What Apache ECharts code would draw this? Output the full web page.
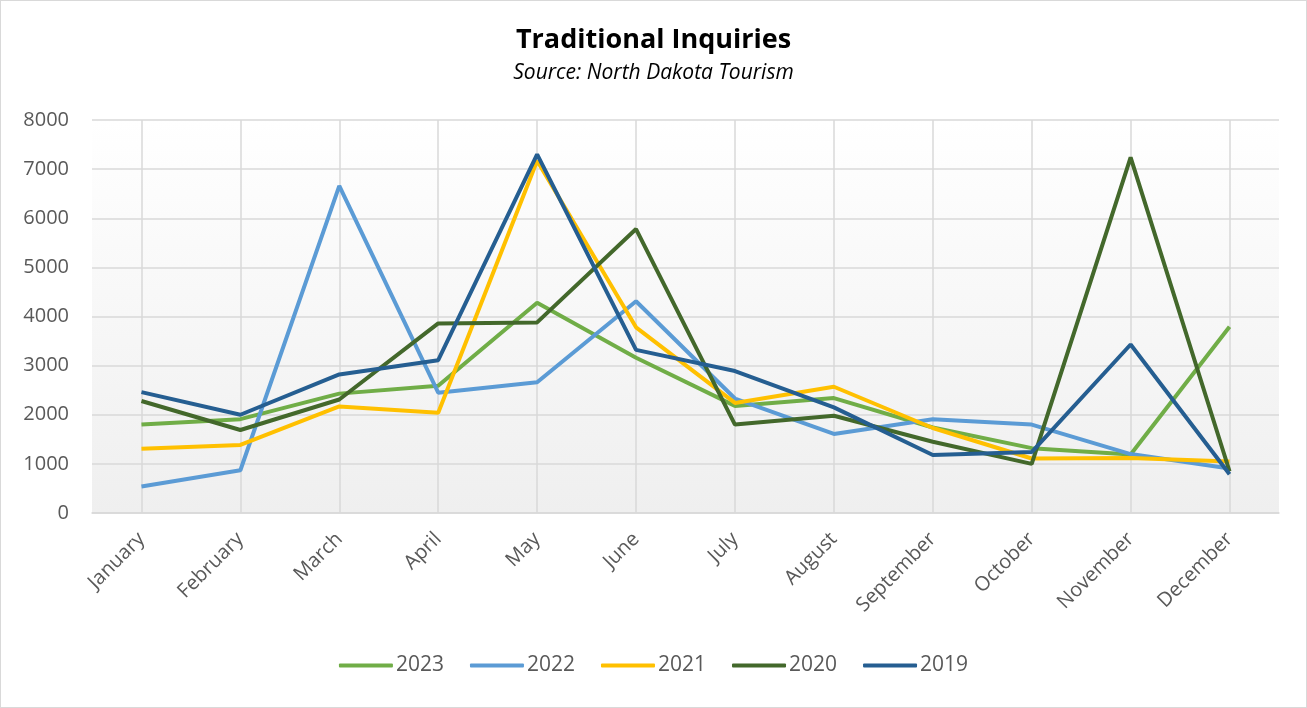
<!DOCTYPE html>
<html>
<head>
<meta charset="utf-8">
<title>Traditional Inquiries</title>
<script src="https://cdn.jsdelivr.net/npm/echarts@6/dist/echarts.min.js"></script>
<style>
  html, body { margin: 0; padding: 0; background: #fff; }
  #chart {
    width: 1307px;
    height: 708px;
    box-sizing: border-box;
    border: 1px solid #d9d9d9;
  }
</style>
</head>
<body>
<div id="chart"></div>
<script>
// months on the x axis
var months = ['January', 'February', 'March', 'April', 'May', 'June',
  'July', 'August', 'September', 'October', 'November', 'December'];

// inquiries per year
var y2023 = [1800, 1910, 2430, 2590, 4280, 3160, 2180, 2340, 1740, 1320, 1190, 3790];
var y2022 = [540, 870, 6660, 2450, 2660, 4310, 2330, 1610, 1910, 1800, 1200, 905];
var y2021 = [1310, 1385, 2170, 2040, 7170, 3780, 2240, 2570, 1730, 1110, 1120, 1050];
var y2020 = [2280, 1690, 2310, 3860, 3880, 5780, 1800, 1980, 1450, 1000, 7240, 850];
var y2019 = [2460, 2000, 2820, 3110, 7300, 3320, 2890, 2150, 1180, 1240, 3430, 790];

var yearNames = ['2023', '2022', '2021', '2020', '2019'];
var colors = ['#70AD47', '#5B9BD5', '#FFC000', '#43682B', '#255E91'];
var seriesData = [y2023, y2022, y2021, y2020, y2019];

var font = '"Open Sans", "DejaVu Sans", sans-serif';

var myChart = echarts.init(document.getElementById('chart'));

var series = yearNames.map(function (name, i) {
  return {
    name: name,
    type: 'line',
    data: seriesData[i],
    symbol: 'none',
    smooth: false,
    lineStyle: { width: 4, color: colors[i] },
    itemStyle: { color: colors[i] }
  };
});

myChart.setOption({
  animation: false,
  textStyle: { fontFamily: font },
  title: {
    text: 'Traditional Inquiries',
    subtext: 'Source: North Dakota Tourism',
    left: 'center',
    top: 21,
    itemGap: 9,
    textStyle: { fontFamily: font, fontSize: 27, fontWeight: 'bold', color: '#000' },
    subtextStyle: { fontFamily: font, fontSize: 21, fontStyle: 'italic', color: '#000' }
  },
  legend: {
    data: yearNames,
    bottom: 26,
    left: 'center',
    icon: 'roundRect',
    itemWidth: 54,
    itemHeight: 4,
    itemGap: 26,
    textStyle: { fontFamily: font, fontSize: 21, color: '#595959', padding: [0, 0, 0, -2] }
  },
  color: colors,
  grid: {
    left: 91,
    right: 27,
    top: 119,
    bottom: 194,
    show: true,
    borderWidth: 0,
    backgroundColor: new echarts.graphic.LinearGradient(0, 0, 0, 1, [
      { offset: 0, color: '#ffffff' },
      { offset: 1, color: '#efefef' }
    ])
  },
  xAxis: {
    type: 'category',
    data: months,
    boundaryGap: true,
    axisLine: { show: true, lineStyle: { color: '#d9d9d9', width: 1.5 } },
    axisTick: { show: false },
    splitLine: { show: true, alignWithLabel: true, lineStyle: { color: '#d9d9d9', width: 1.5 } },
    axisLabel: {
      rotate: 45,
      interval: 0,
      margin: 23,
      fontSize: 20,
      color: '#595959',
      fontFamily: font
    }
  },
  yAxis: {
    type: 'value',
    min: 0,
    max: 8000,
    interval: 1000,
    axisLine: { show: false },
    axisTick: { show: false },
    splitLine: { lineStyle: { color: '#d9d9d9', width: 1.5 } },
    axisLabel: {
      fontSize: 20,
      color: '#595959',
      margin: 23,
      fontFamily: font,
      formatter: function (v) { return String(v); }
    }
  },
  series: series
});
</script>
</body>
</html>
